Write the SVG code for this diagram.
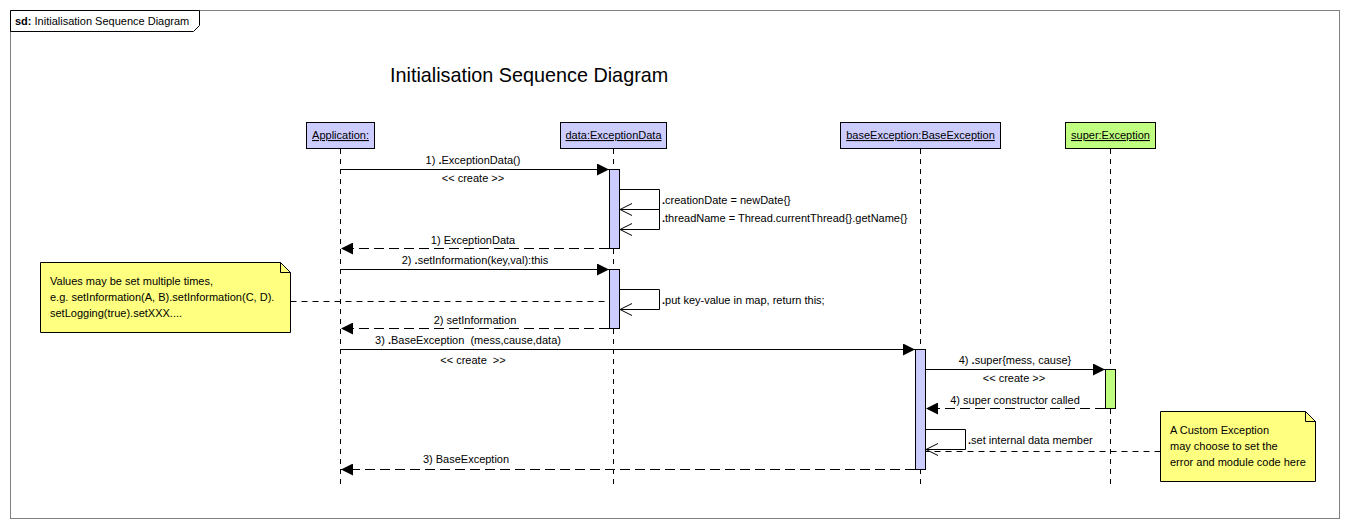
<svg xmlns="http://www.w3.org/2000/svg" width="1350" height="530" viewBox="0 0 1350 530">
<style>
text{font-family:"Liberation Sans",Arial,sans-serif;font-size:11px;fill:#000}
.c{text-anchor:middle}
.u{text-decoration:underline}
.head{fill:#ccccff;stroke:#000;stroke-width:1}
.green{fill:#c0ff80;stroke:#000;stroke-width:1}
.life{stroke:#000;stroke-width:1;stroke-dasharray:5,5;fill:none}
.msg{stroke:#000;stroke-width:1;fill:none}
.ret{stroke:#000;stroke-width:1;stroke-dasharray:10,5;fill:none}
.note{fill:#ffff80;stroke:#000;stroke-width:1}
.link{stroke:#000;stroke-width:1;stroke-dasharray:6,5;fill:none}
.b{font-weight:bold}
</style>
<defs>
<marker id="fill" viewBox="0 0 12 12" refX="12" refY="6" markerWidth="12" markerHeight="12" markerUnits="userSpaceOnUse" orient="auto">
<path d="M0,0 L12,6 L0,12 Z" fill="#000"/>
</marker>
<marker id="open" viewBox="0 0 13 13" refX="12" refY="6.5" markerWidth="13" markerHeight="13" markerUnits="userSpaceOnUse" orient="auto">
<path d="M0,0.5 L12,6.5 L0,12.5" fill="none" stroke="#000" stroke-width="1"/>
</marker>
</defs>
<rect width="1350" height="530" fill="#fff"/>
<g id="frame">
<rect x="10.5" y="10.5" width="1329" height="508" fill="none" stroke="#808080"/>
<path d="M10.5,10.5 H199.5 V25.5 L193.5,31.5 H10.5 Z" fill="#fff" stroke="#000"/>
<text x="15" y="25"><tspan class="b">sd:</tspan> Initialisation Sequence Diagram</text>
<text x="390" y="82" style="font-size:19.8px">Initialisation Sequence Diagram</text>
</g>
<g id="lifelines">
<path class="life" d="M340.5,149 V487 M613.5,149 V487 M920.5,149 V487 M1110.5,149 V487"/>
</g>
<g id="application">
<rect class="head" x="306.5" y="122.5" width="68" height="26"/>
<text class="c u" x="340.5" y="139">Application:</text>
</g>
<g id="data">
<rect class="head" x="560.5" y="122.5" width="106" height="26"/>
<text class="c u" x="613.5" y="139">data:ExceptionData</text>
<rect class="head" x="609.5" y="169.5" width="10" height="79"/>
<rect class="head" x="609.5" y="269.5" width="10" height="59"/>
</g>
<g id="baseException">
<rect class="head" x="840.5" y="122.5" width="160" height="26"/>
<text class="c u" x="920.5" y="139">baseException:BaseException</text>
<rect class="head" x="915.5" y="349.5" width="10" height="120"/>
</g>
<g id="superException">
<rect class="green" x="1065.5" y="122.5" width="90" height="26"/>
<text class="c u" x="1110.5" y="139">super:Exception</text>
<rect class="green" x="1105.5" y="369.5" width="10" height="39"/>
</g>
<g id="note1">
<path class="note" d="M40.5,262.5 H280.5 L290.5,272.5 V332.5 H40.5 Z"/>
<path d="M280.5,262.5 V272.5 H290.5" fill="none" stroke="#000"/>
<text x="50" y="285">Values may be set multiple times,</text>
<text x="50" y="301">e.g. setInformation(A, B).setInformation(C, D).</text>
<text x="50" y="317">setLogging(true).setXXX....</text>
</g>
<g id="note2">
<path class="note" d="M1160.5,411.5 H1305.5 L1315.5,421.5 V481.5 H1160.5 Z"/>
<path d="M1305.5,411.5 V421.5 H1315.5" fill="none" stroke="#000"/>
<text x="1170" y="434">A Custom Exception</text>
<text x="1170" y="450">may choose to set the</text>
<text x="1170" y="466">error and module code here</text>
</g>
<g id="connectors">
<path class="msg" d="M341,169.5 H609" marker-end="url(#fill)"/>
<path class="msg" d="M619.5,189.5 H659.5 V209.5 H620" marker-end="url(#open)"/>
<path class="msg" d="M659.5,209.5 V229.5 H620" marker-end="url(#open)"/>
<path class="ret" d="M609,248.5 H341" marker-end="url(#fill)"/>
<path class="msg" d="M341,269.5 H609" marker-end="url(#fill)"/>
<path class="msg" d="M619.5,289.5 H659.5 V309.5 H620" marker-end="url(#open)"/>
<path class="ret" d="M609,328.5 H341" marker-end="url(#fill)"/>
<path class="msg" d="M341,349.5 H915" marker-end="url(#fill)"/>
<path class="msg" d="M925.5,369.5 H1105" marker-end="url(#fill)"/>
<path class="ret" d="M1105,408.5 H926" marker-end="url(#fill)"/>
<path class="msg" d="M925.5,429.5 H965.5 V449.5 H926" marker-end="url(#open)"/>
<path class="ret" d="M915,469.5 H341" marker-end="url(#fill)"/>
<path class="link" d="M290.5,301.5 H609"/>
<path class="link" d="M1160.5,451.5 H926"/>
</g>
<g id="labels">
<text class="c" x="473" y="164">1) <tspan class="b">.</tspan>ExceptionData()</text>
<text class="c" x="473" y="182">&lt;&lt; create &gt;&gt;</text>
<text x="662" y="204"><tspan class="b">.</tspan>creationDate = newDate{}</text>
<text x="662" y="222"><tspan class="b">.</tspan>threadName = Thread.currentThread{}.getName{}</text>
<text class="c" x="473" y="244">1) ExceptionData</text>
<text class="c" x="475" y="264">2) <tspan class="b">.</tspan>setInformation(key,val):this</text>
<text x="662" y="304"><tspan class="b">.</tspan>put key-value in map, return this;</text>
<text class="c" x="475" y="324">2) setInformation</text>
<text class="c" x="468" y="344" xml:space="preserve">3) <tspan class="b">.</tspan>BaseException  (mess,cause,data)</text>
<text class="c" x="473" y="364" xml:space="preserve">&lt;&lt; create  &gt;&gt;</text>
<text class="c" x="1015" y="364">4) <tspan class="b">.</tspan>super{mess, cause}</text>
<text class="c" x="1014" y="382">&lt;&lt; create &gt;&gt;</text>
<text class="c" x="1015" y="404">4) super constructor called</text>
<text x="968" y="444"><tspan class="b">.</tspan>set internal data member</text>
<text class="c" x="466" y="463">3) BaseException</text>
</g>
</svg>
